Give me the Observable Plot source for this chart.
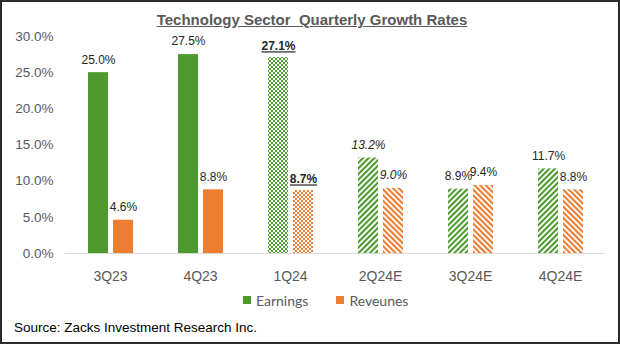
<!DOCTYPE html>
<html>
<head>
<meta charset="utf-8">
<script src="https://cdn.jsdelivr.net/npm/d3@7"></script>
<script src="https://cdn.jsdelivr.net/npm/@observablehq/plot@0.6"></script>
<style>
  body { margin: 0; background: #fff; }
  #wrap { position: relative; width: 620px; height: 344px; overflow: hidden; background: #fff; font-family: "Liberation Sans", Arial, sans-serif; }
  #frame { position: absolute; left: 0; top: 0; width: 620px; height: 344px; box-sizing: border-box; border: 2px solid #2b2b2b; pointer-events: none; }
  #title { position: absolute; left: 2px; width: 620px; top: 12px; line-height: 16px; text-align: center; font-weight: bold; font-size: 15px; color: #595959; text-decoration: underline; white-space: pre; }
  #chart { position: absolute; left: 0; top: 28px; }
  #legend { position: absolute; left: 243px; top: 292px; height: 16px; display: flex; align-items: center; font-family: Lato, "Liberation Sans", sans-serif; font-size: 14px; color: #595959; }
  #legend .item { display: flex; align-items: center; margin-right: 28px; }
  #legend .sw { width: 8px; height: 8px; margin-right: 5px; }
  #source { position: absolute; left: 14px; top: 320px; line-height: 16px; font-size: 13.5px; color: #000; white-space: pre; }
</style>
</head>
<body>
<div id="wrap">
  <div id="title"></div>
  <div id="chart"></div>
  <div id="legend"></div>
  <div id="source"></div>
  <div id="frame"></div>
</div>
<script>
// ---- data ----
const titleText = "Technology Sector  Quarterly Growth Rates";
const sourceText = "Source: Zacks Investment Research Inc.";
const quarters = ["3Q23", "4Q23", "1Q24", "2Q24E", "3Q24E", "4Q24E"];
const earnings = [25.0, 27.5, 27.1, 13.2, 8.9, 11.7];
const revenues = [4.6, 8.8, 8.7, 9.0, 9.4, 8.8];
const seriesNames = ["Earnings", "Reveunes"];
const yTicks = [0, 5, 10, 15, 20, 25, 30];

// ---- styles ----
const palette = ["#4e9a2f", "#ed7d31"];
const kindOf = i => (i < 2 ? "solid" : i === 2 ? "dots" : "stripes");

const rows = quarters.flatMap((q, i) => [
  { quarter: q, series: seriesNames[0], value: earnings[i], idx: i },
  { quarter: q, series: seriesNames[1], value: revenues[i], idx: i }
]);

const fillOf = d => {
  const si = seriesNames.indexOf(d.series);
  const k = kindOf(d.idx);
  return k === "solid" ? palette[si] : `url(#${k}-${si})`;
};
const fmt = d => d.value.toFixed(1) + "%";
const common = { fx: "quarter", x: "series", y: "value", text: fmt, fontSize: 12, fill: "#262626" };

const chart = Plot.plot({
  width: 620,
  height: 262,
  marginTop: 8,
  marginBottom: 37,
  marginLeft: 64,
  marginRight: 14,
  style: { fontFamily: "'Liberation Sans', Arial, sans-serif", color: "#595959", background: "transparent", overflow: "visible" },
  color: { type: "identity" },
  fx: { domain: quarters, padding: 0 },
  x: { domain: seriesNames, paddingInner: 0.22, paddingOuter: 0.87, axis: null },
  y: { domain: [0, 30] },
  marks: [
    Plot.barY(rows, { fx: "quarter", x: "series", y: "value", fill: fillOf }),
    Plot.ruleY([0], { stroke: "#d9d9d9", strokeWidth: 1 }),
    Plot.text(rows.filter(d => d.idx !== 2 && d.idx !== 3), { ...common, dy: -13 }),
    Plot.text(rows.filter(d => d.idx === 2), { ...common, dy: -11, fontWeight: "bold" }),
    Plot.text(rows.filter(d => d.idx === 3), { ...common, dy: -13, fontStyle: "italic" }),
    Plot.axisY(yTicks, { tickSize: 0, tickPadding: 12, tickFormat: d => d.toFixed(1) + "%", fontSize: 13.5, label: null }),
    Plot.axisFx({ anchor: "bottom", tickSize: 0, tickPadding: 18, fontSize: 14, label: null })
  ]
});

// patterns
const svg = chart.tagName.toLowerCase() === "svg" ? chart : chart.querySelector("svg");
const ns = "http://www.w3.org/2000/svg";
const defs = document.createElementNS(ns, "defs");
let inner = "";
palette.forEach((c, si) => {
  inner += `<pattern id="dots-${si}" patternUnits="userSpaceOnUse" width="4" height="4">
      <rect x="0" y="0" width="4" height="4" fill="#fff"/>
      <rect x="0" y="0" width="2" height="2" fill="${c}"/>
      <rect x="2" y="2" width="2" height="2" fill="${c}"/>
    </pattern>`;
  inner += `<pattern id="stripes-${si}" patternUnits="userSpaceOnUse" width="4" height="4" patternTransform="rotate(${si === 0 ? 45 : -45})">
      <rect x="0" y="0" width="4" height="4" fill="#fff"/>
      <rect x="0" y="0" width="2.1" height="4" fill="${c}"/>
    </pattern>`;
});
defs.innerHTML = inner;
svg.insertBefore(defs, svg.firstChild);
svg.querySelectorAll('g[font-weight="bold"] text').forEach(t => t.setAttribute("text-decoration", "underline"));
document.getElementById("chart").appendChild(chart);

document.getElementById("title").textContent = titleText;
document.getElementById("source").textContent = sourceText;
const legend = document.getElementById("legend");
seriesNames.forEach((s, si) => {
  const item = document.createElement("div");
  item.className = "item";
  const sw = document.createElement("div");
  sw.className = "sw";
  sw.style.background = palette[si];
  const t = document.createElement("span");
  t.textContent = s;
  item.appendChild(sw);
  item.appendChild(t);
  legend.appendChild(item);
});
</script>
</body>
</html>
